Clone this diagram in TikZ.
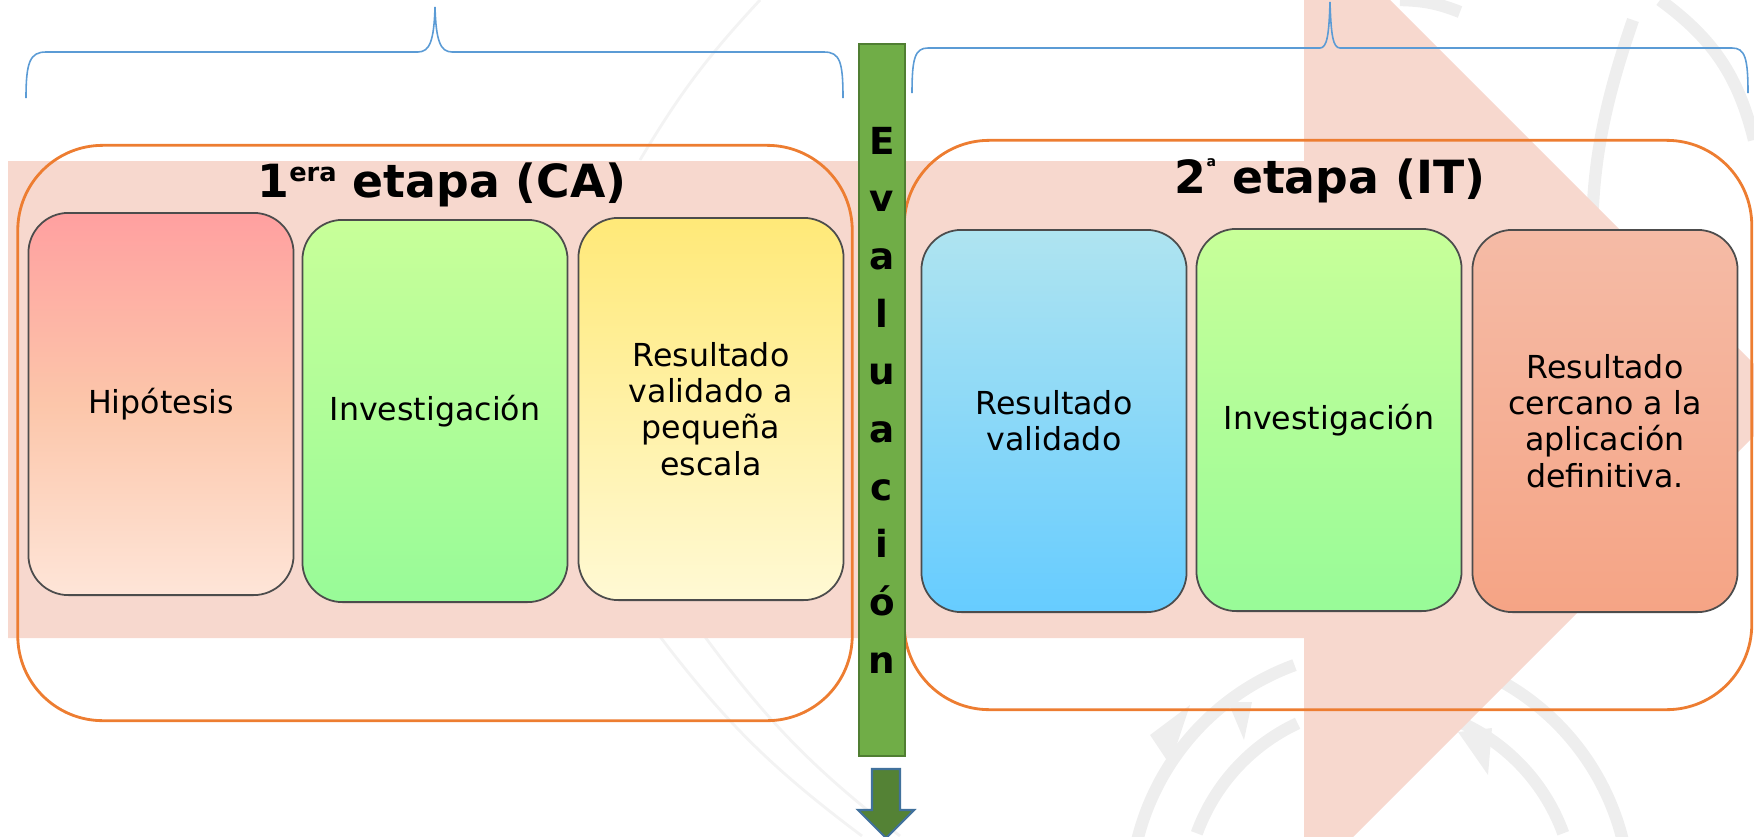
\documentclass[tikz,border=0pt]{standalone}
\usepackage{fontspec}
\setmainfont{DejaVu Sans}
\usetikzlibrary{positioning}

\definecolor{bandpink}{RGB}{247,216,206}
\definecolor{etapaorange}{RGB}{237,125,49}
\definecolor{braceblue}{RGB}{91,155,213}
\definecolor{evalgreen}{RGB}{112,173,71}
\definecolor{evalborder}{RGB}{80,126,50}
\definecolor{arrowgreen}{RGB}{84,130,53}
\definecolor{arrowborder}{RGB}{65,113,156}
\definecolor{markgray}{RGB}{238,238,238}
\definecolor{markfaint}{RGB}{243,243,243}

\begin{document}
\begin{tikzpicture}[x=0.01cm,y=-0.01cm,
		stagebox/.style={rounded corners=0.4cm,draw=black!70,line width=0.5pt,
			minimum width=2.65cm,minimum height=3.82cm,align=center,inner sep=2pt,
			font=\fontsize{9}{10.3}\selectfont},
		etapa/.style={draw=etapaorange,line width=0.8pt,rounded corners=0.85cm},
		titulo/.style={anchor=base,font=\bfseries\fontsize{13}{15}\selectfont},
		llave/.style={draw=braceblue,line width=0.45pt},
		marca/.style={draw=markgray,line width=3.5pt},
		marcafina/.style={draw=markfaint,line width=0.8pt}]

		\useasboundingbox (0,0) rectangle (1754,836);
		\clip (0,0) rectangle (1754,836);

		\draw [marca] (1380,900) ++(190:250) arc [start angle=190,end angle=250,radius=250];
		\draw [marca] (1380,900) ++(295:250) arc [start angle=295,end angle=360,radius=250];
		\draw [marca] (1380,900) ++(200:195) arc [start angle=200,end angle=245,radius=195];
		\draw [marca] (1380,900) ++(290:195) arc [start angle=290,end angle=340,radius=195];
		\fill [markgray] (1150,735) -- (1190,705) -- (1170,765) -- cycle;
		\fill [markgray] (1228,702) -- (1252,702) -- (1244,740) -- cycle;
		\fill [markgray] (1458,732) -- (1492,728) -- (1488,775) -- cycle;
		\draw [marca] (1633,20) to [bend right=12] (1596,320);
		\draw [marca] (1660,0) to [bend left=20] (1754,140);
		\draw [marca] (1400,0) to [bend left=10] (1460,12);
		\draw [marcafina] (655,630) to [bend right=8] (862,836);
		\draw [marcafina] (700,630) to [bend right=8] (900,836);
		\draw [marcafina] (640,160) to [bend left=6] (760,0);

		\fill [bandpink] (8,161) -- (1304,161) -- (1304,-86) -- (1790,400)
			-- (1304,886) -- (1304,638) -- (8,638) -- cycle;

		\node [etapa, minimum width=8.34cm, minimum height=5.75cm] (etapa1) at (435,433) {};
		\node [etapa, minimum width=8.47cm, minimum height=5.69cm] (etapa2) at (1328,425) {};

		\draw [llave] (26,98) .. controls (26,62) and (30,52) .. (46,52) -- (418,52)
			.. controls (430,52) and (434,40) .. (435,7)
			.. controls (436,40) and (440,52) .. (452,52) -- (824,52)
			.. controls (840,52) and (843,62) .. (843,98);
		\draw [llave] (912,93) .. controls (912,58) and (915,48) .. (928,48) -- (1320,48)
			.. controls (1327,48) and (1329,35) .. (1330,2)
			.. controls (1331,35) and (1333,48) .. (1340,48) -- (1732,48)
			.. controls (1745,48) and (1748,58) .. (1748,93);

		\node [titulo] (titulo1) at (442,197)
			{1\raisebox{4.5pt}{\fontsize{7.3}{8}\selectfont era} etapa (CA)};
		\node [titulo] (titulo2) at (1330,193)
			{2\raisebox{7.4pt}{\fontsize{4}{4}\selectfont a} etapa (IT)};

		\node [stagebox, top color={rgb,255:red,255;green,160;blue,160},
			bottom color={rgb,255:red,254;green,229;blue,216},
			middle color={rgb,255:red,252;green,198;blue,170}] (hipotesis) at (161,404) {Hipótesis};
		\node [stagebox, top color={rgb,255:red,200;green,255;blue,153},
			bottom color={rgb,255:red,152;green,251;blue,152}] (invest1) at (435,411) {Investigación};
		\node [stagebox, top color={rgb,255:red,255;green,233;blue,120},
			bottom color={rgb,255:red,255;green,249;blue,212}] (pequena) at (711,409)
			{Resultado\\validado a\\pequeña\\escala};

		\node [stagebox, top color={rgb,255:red,175;green,228;blue,240},
			bottom color={rgb,255:red,102;green,204;blue,255}] (validado) at (1054,421)
			{Resultado\\validado};
		\node [stagebox, top color={rgb,255:red,200;green,255;blue,153},
			bottom color={rgb,255:red,152;green,251;blue,152}] (invest2) at (1329,420) {Investigación};
		\node [stagebox, top color={rgb,255:red,245;green,187;blue,166},
			bottom color={rgb,255:red,245;green,164;blue,133}] (cercano) at (1605,421)
			{Resultado\\cercano a la\\aplicación\\definitiva.};

		\node [fill=evalgreen, draw=evalborder, line width=0.6pt, inner sep=0pt,
			minimum width=0.467cm, minimum height=7.12cm, align=center,
			font=\bfseries\fontsize{10.6}{16.4}\selectfont] (evalbar) at (882,400)
			{E\\v\\a\\l\\u\\a\\c\\i\\ó\\n};

		\draw [fill=arrowgreen, draw=arrowborder, line width=0.6pt]
			(872,769) -- (900,769) -- (900,810) -- (914,810) -- (886,838)
			-- (858,810) -- (872,810) -- cycle;

		\end{tikzpicture}
\end{document}
